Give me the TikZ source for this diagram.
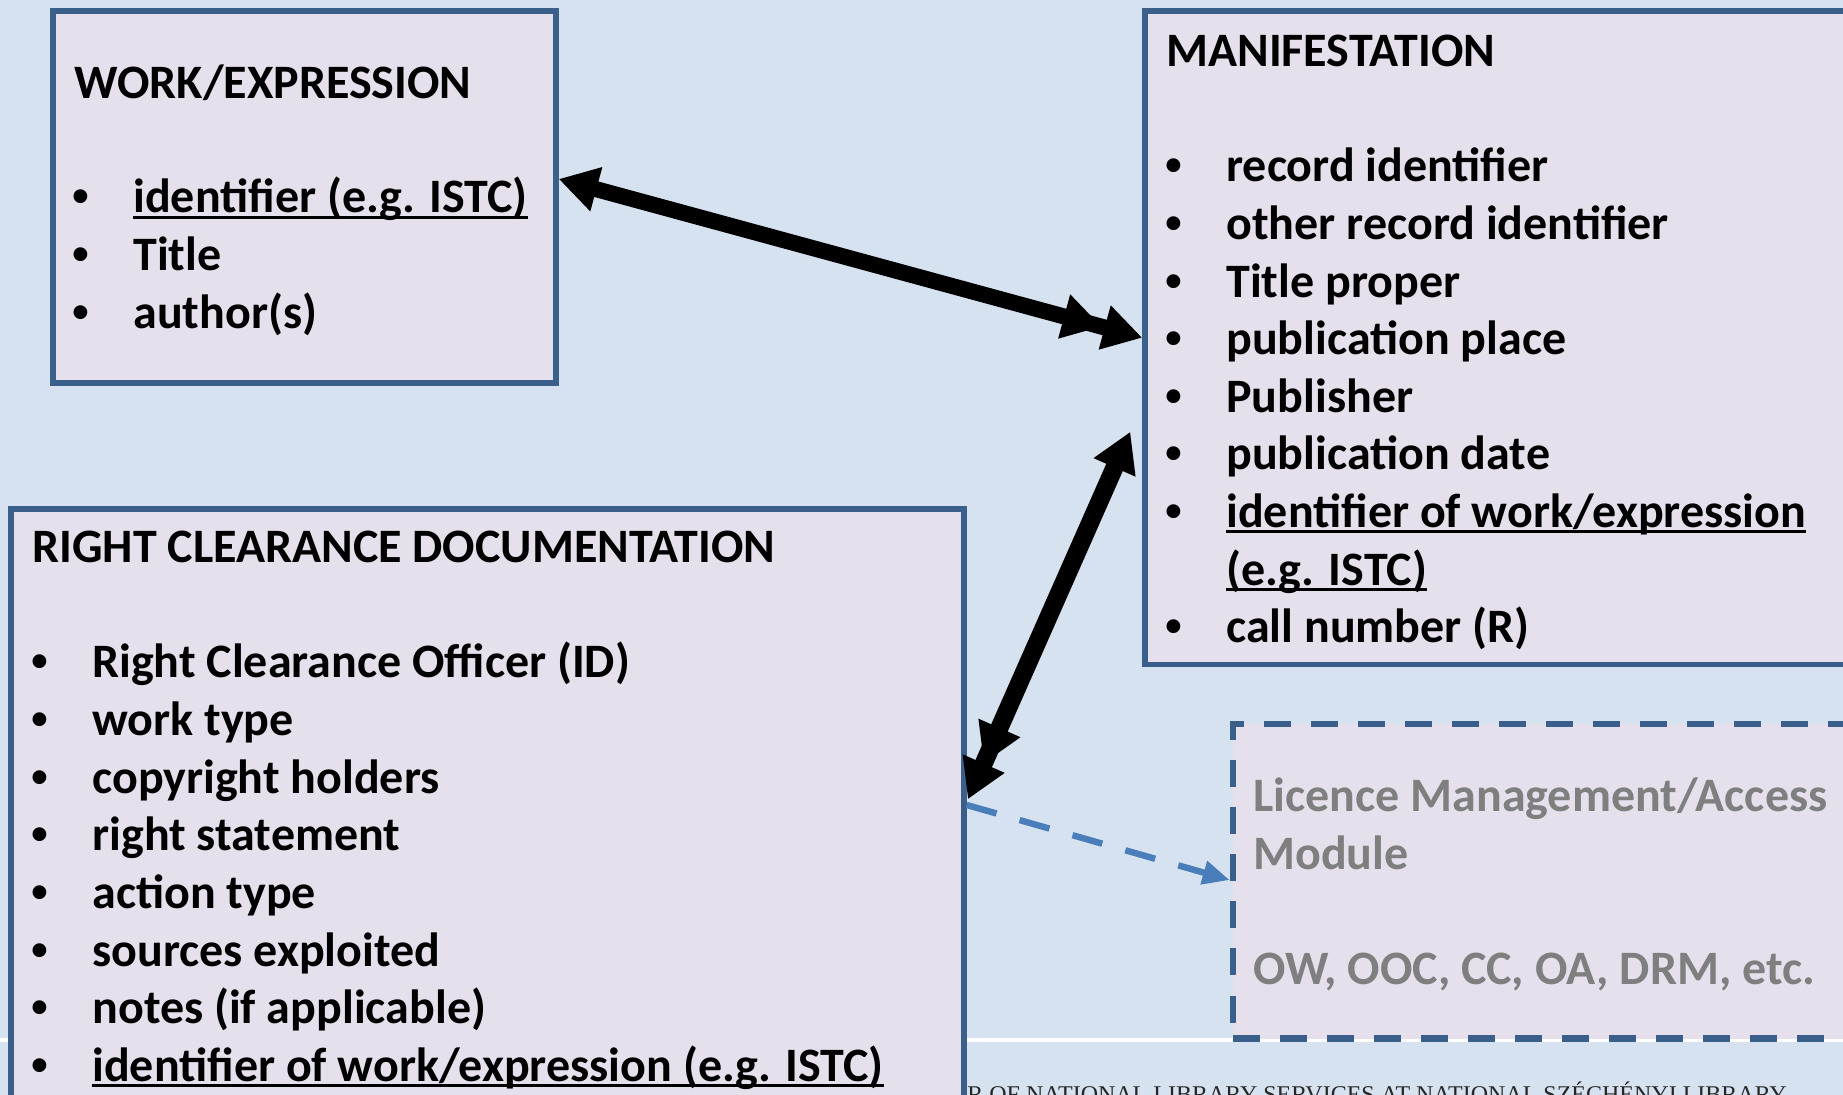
\documentclass[tikz,border=0pt]{standalone}
\usepackage{fontspec}
\setmainfont{Carlito}
\newfontfamily\footfont{Liberation Serif}
\newfontfamily\bulfont{Liberation Sans}
\usetikzlibrary{arrows.meta,calc}
\definecolor{bgblue}{HTML}{D6E2F0}
\definecolor{boxfill}{HTML}{E6E0EC}
\definecolor{boxline}{HTML}{3A5F8B}
\definecolor{dashblue}{HTML}{4A7EBB}
\definecolor{greytext}{HTML}{7F7F7F}
\newcommand\myul[1]{\setbox0\hbox{#1}\rlap{\rule[-2.8pt]{\wd0}{1.4pt}}\box0}
\newcommand\bitem[1]{\makebox[30.5pt][l]{{\bulfont\bfseries •}}#1}
\tikzset{
  box/.style={draw=boxline, line width=2.7pt, fill=boxfill, inner sep=0pt},
  dbox/.style={draw=boxline, line width=3.3pt, fill=boxfill, inner sep=0pt,
    dash pattern=on 13.5pt off 10pt},
  txt/.style={anchor=base west, inner sep=0pt, font=\bfseries\fontsize{24}{28.8}\selectfont},
  gtxt/.style={txt, text=greytext},
  bigarrow/.style={draw=black, line width=8pt},
  dasharrow/.style={draw=dashblue, line width=3.2pt, dash pattern=on 15.5pt off 12pt,
    -{Triangle[length=13.5pt,width=11.5pt]}},
}
\begin{document}
\begin{tikzpicture}[x=0.5pt,y=-0.5pt]
\clip (0,0) rectangle (1843,1095);
\fill[bgblue] (0,0) rectangle (1843,1095);
\draw[white, line width=1.8pt] (0,1040) -- (1843,1040);
\node[anchor=base west, inner sep=0pt, font=\footfont\fontsize{12}{14}\selectfont, text=black!85]
  (foot) at (967,1102) {R OF NATIONAL LIBRARY SERVICES AT NATIONAL SZÉCHÉNYI LIBRARY};

% boxes
\node[box, minimum width=251.5pt, minimum height=186pt] (we) at (304.5,197) {};
\node[box, minimum width=367.5pt, minimum height=326.75pt] (ma) at (1512.5,337.75) {};
\node[box, minimum width=476.5pt, minimum height=305.5pt] (rc) at (487.5,814.5) {};
\node[dbox, minimum width=323.5pt, minimum height=157.25pt] (lm) at (1556.5,881.25) {};

% work / expression
\node[txt] (weT) at (74,98.7) {WORK/EXPRESSION};
\foreach [count=\i] \t in {{\myul{identifier (e.g. ISTC)}},{Title},{author(s)}}
  \node[txt] (we\i) at (72,{213+(\i-1)*57.6}) {\bitem{\t}};

% manifestation
\node[txt] (maT) at (1166,67) {MANIFESTATION};
\foreach [count=\i] \t in {{record identifier},{other record identifier},{Title proper},
  {publication place},{Publisher},{publication date},{\myul{identifier of work/expression}}}
  \node[txt] (ma\i) at (1165,{182+(\i-1)*57.6}) {\bitem{\t}};
\node[txt] (ma8) at (1226,{182+7*57.6}) {\myul{(e.g. ISTC)}};
\node[txt] (ma9) at (1165,{182+8*57.6}) {\bitem{call number (R)}};

% right clearance documentation
\node[txt] (rcT) at (32,563) {RIGHT CLEARANCE DOCUMENTATION};
\foreach [count=\i] \t in {{Right Clearance Officer (ID)},{work type},{copyright holders},
  {right statement},{action type},{sources exploited},{notes (if applicable)},
  {\myul{identifier of work/expression (e.g. ISTC)}}}
  \node[txt] (rc\i) at (31,{678+(\i-1)*57.6}) {\bitem{\t}};

% licence management
\node[gtxt] (lm1) at (1253,812) {Licence Management/Access};
\node[gtxt] (lm2) at (1253,869.6) {Module};
\node[gtxt] (lm3) at (1253,984.8) {OW, OOC, CC, OA, DRM, etc.};

% connectors
\draw[bigarrow, {Triangle[length=19.5pt,width=21.5pt]}-{Triangle[length=19.5pt,width=21.5pt,sep=1.5pt]Triangle[length=19.5pt,width=21.5pt]}]
  ([yshift=9pt]we.east) -- (ma.west);
\draw[bigarrow, line width=9pt, {Triangle[length=19.5pt,width=21.5pt,sep=1.5pt]Triangle[length=19.5pt,width=21.5pt]}-{Triangle[length=19.5pt,width=21.5pt]}]
  ([yshift=6.25pt]rc.east) -- ([xshift=-6pt,yshift=-47pt]ma.west);
\draw[dasharrow] ([yshift=4.75pt]rc.east) -- ([yshift=0.6pt]lm.west);
\end{tikzpicture}
\end{document}
